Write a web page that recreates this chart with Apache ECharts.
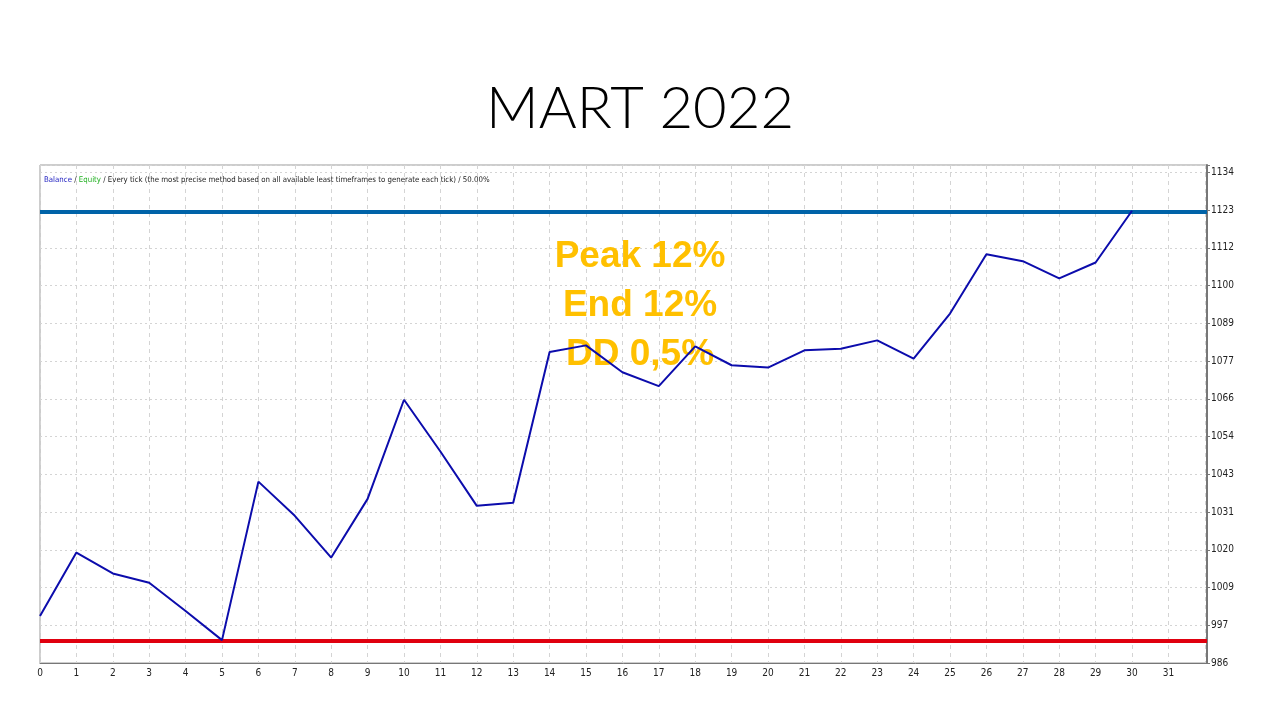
<!DOCTYPE html>
<html>
<head>
<meta charset="utf-8">
<script src="https://cdn.jsdelivr.net/npm/echarts@6/dist/echarts.min.js"></script>
<style>
html,body{margin:0;padding:0;background:#fff;}
#c{width:1280px;height:720px;}
</style>
</head>
<body>
<div id="c"></div>
<script>
// ---- data ----
var trades = [0,1,2,3,4,5,6,7,8,9,10,11,12,13,14,15,16,17,18,19,20,21,22,23,24,25,26,27,28,29,30];
var balance = [1000.2,1019.3,1013.0,1010.2,1001.7,992.9,1040.7,1030.4,1017.8,1035.5,1065.4,1049.8,1033.4,1034.3,1079.8,1081.8,1073.7,1069.5,1081.5,1075.8,1075.1,1080.3,1080.8,1083.3,1077.8,1091.4,1109.3,1107.2,1102.0,1106.8,1122.4];
var xTickLabels = ['0','1','2','3','4','5','6','7','8','9','10','11','12','13','14','15','16','17','18','19','20','21','22','23','24','25','26','27','28','29','30','31'];
var yTickLabels = ['986','997','1009','1020','1031','1043','1054','1066','1077','1089','1100','1112','1123','1134'];
var peakLevel = 1122.0;
var lowLevel = 992.8;
var titleText = 'MART 2022';
var statsLines = ['Peak 12%','End 12%','DD 0,5%'];

var yMin = 986, yMax = 1136.2;
var tickStep = (1134 - 986) / 13;

var chart = echarts.init(document.getElementById('c'), null, {renderer:'canvas'});
var smallFont = "'Liberation Sans Narrow','DejaVu Sans Condensed','Arial Narrow',sans-serif";

chart.setOption({
  backgroundColor:'#ffffff',
  animation:false,
  title:[{
    text:titleText,
    left:'center', top:75,
    textStyle:{fontFamily:"Lato, 'Noto Sans', sans-serif", fontWeight:300, fontSize:58, color:'#000'}
  },{
    text:'{b|Balance}{k| / }{g|Equity}{k| / Every tick (the most precise method based on all available least timeframes to generate each tick) / 50.00%}',
    left:39, top:171,
    textStyle:{fontWeight:'normal', rich:{
      b:{color:'#2020c0', fontSize:7.8, fontWeight:'normal', fontFamily:smallFont},
      g:{color:'#20b020', fontSize:7.8, fontWeight:'normal', fontFamily:smallFont},
      k:{color:'#222', fontSize:7.8, fontWeight:'normal', fontFamily:smallFont}
    }}
  }],
  graphic:[{
    type:'text',
    x:640, y:232,
    z:1,
    style:{
      text:statsLines.join('\n'),
      align:'center', verticalAlign:'top',
      font:"bold 37px 'Liberation Sans', Arial, sans-serif",
      lineHeight:49,
      fill:'#FFC000'
    }
  }],
  grid:{left:40, right:73, top:165, bottom:57, show:true, borderColor:'#9a9a9a', borderWidth:1, backgroundColor:'#fff'},
  xAxis:{
    type:'value', min:0, max:32.06, interval:1,
    axisLine:{show:true, lineStyle:{color:'#777', width:1}},
    axisTick:{show:false},
    axisLabel:{
      margin:5, fontSize:10, color:'#222', fontFamily:smallFont,
      showMaxLabel:false,
      formatter:function(v){ var k=Math.round(v); return (Math.abs(v-k)<1e-6 && k<xTickLabels.length) ? xTickLabels[k] : ''; }
    },
    splitLine:{show:true, lineStyle:{color:'#d4d4d4', type:[4,4], width:1}}
  },
  yAxis:[{
    type:'value', min:yMin, max:yMax, position:'left',
    axisLine:{show:false}, axisTick:{show:false}, axisLabel:{show:false}, splitLine:{show:false}
  },{
    type:'value', min:0, max:(yMax - yMin)/tickStep, interval:1, position:'right',
    axisLine:{show:true, lineStyle:{color:'#777', width:2}},
    axisTick:{show:true, length:3, lineStyle:{color:'#777'}},
    axisLabel:{
      margin:4, fontSize:10, color:'#222', fontFamily:smallFont,
      formatter:function(v){ var k=Math.round(v); return (Math.abs(v-k)<1e-6 && k<yTickLabels.length) ? yTickLabels[k] : ''; }
    },
    splitLine:{show:true, lineStyle:{color:'#d4d4d4', type:[2,3], width:1}}
  }],
  series:[{
    type:'line',
    yAxisIndex:0,
    zlevel:1,
    data:balance.map(function(v,i){return [trades[i], v];}),
    showSymbol:false,
    lineStyle:{color:'#0c0cac', width:2},
    z:5,
    markLine:{
      silent:true, symbol:['none','none'],
      label:{show:false},
      data:[
        {yAxis:peakLevel, lineStyle:{color:'#0063a8', width:4, type:'solid'}},
        {yAxis:lowLevel, lineStyle:{color:'#e0000f', width:4, type:'solid'}}
      ]
    }
  }]
});
</script>
</body>
</html>
